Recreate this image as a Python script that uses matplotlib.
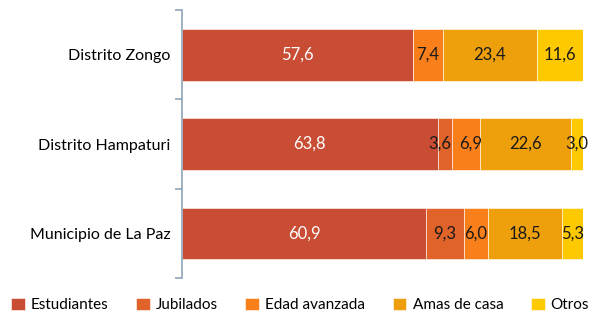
import numpy as np
import matplotlib
matplotlib.use("Agg")
import matplotlib.pyplot as plt

plt.rcParams['font.family'] = ['Lato', 'DejaVu Sans']

# categories from top to bottom
categories = ["Distrito Zongo", "Distrito Hampaturi", "Municipio de La Paz"]
series = ["Estudiantes", "Jubilados", "Edad avanzada", "Amas de casa", "Otros"]
estudiantes = [57.6, 63.8, 60.9]
jubilados = [0.0, 3.6, 9.3]
edad_avanzada = [7.4, 6.9, 6.0]
amas_de_casa = [23.4, 22.6, 18.5]
otros = [11.6, 3.0, 5.3]

values = [estudiantes, jubilados, edad_avanzada, amas_de_casa, otros]
colors = ["#C94D35", "#E0632A", "#F97F1B", "#EEA00C", "#FFC900"]
text_colors = ["white", "#1a1a1a", "#1a1a1a", "#1a1a1a", "#1a1a1a"]

# small label nudges (points) where narrow segments sit side by side
nudge = {(1, 1): -4, (2, 1): 3}

fig = plt.figure(figsize=(6, 3.26), dpi=100)
ax = fig.add_axes([0.303, 0.147, 0.669, 0.822])

y = np.arange(len(categories))[::-1]
left = np.zeros(len(categories))
for si, (name, vals, c, tc) in enumerate(zip(series, values, colors, text_colors)):
    vals = np.array(vals)
    ax.barh(y, vals, left=left, height=0.58, color=c, label=name,
            edgecolor="white", linewidth=0.4)
    for ci, (yi, l, v) in enumerate(zip(y, left, vals)):
        if v > 0:
            dx = nudge.get((si, ci), 0)
            ax.annotate(("%.1f" % v).replace(".", ","), (l + v / 2, yi),
                        xytext=(dx, 0), textcoords="offset points",
                        ha="center", va="center", color=tc, fontsize=12)
    left += vals

ax.set_xlim(0, 100)
ax.set_ylim(-0.5, 2.5)
ax.set_yticks(y)
ax.set_yticklabels(categories, fontsize=11.5)
ax.set_yticks([-0.5, 0.5, 1.5, 2.5], minor=True)
ax.tick_params(axis="y", which="major", length=0, pad=8)
ax.tick_params(axis="y", which="minor", length=5, color="#8EA4B8", width=1.2)
ax.set_xticks([])
for s in ["top", "right", "bottom"]:
    ax.spines[s].set_visible(False)
ax.spines["left"].set_color("#8EA4B8")
ax.spines["left"].set_linewidth(1.2)

fig.legend(loc="lower center", bbox_to_anchor=(0.5, 0.0), ncol=5, frameon=False,
           fontsize=11, handlelength=0.9, handleheight=0.9, handletextpad=0.4,
           columnspacing=1.8)

fig.savefig("out.png", dpi=100)
